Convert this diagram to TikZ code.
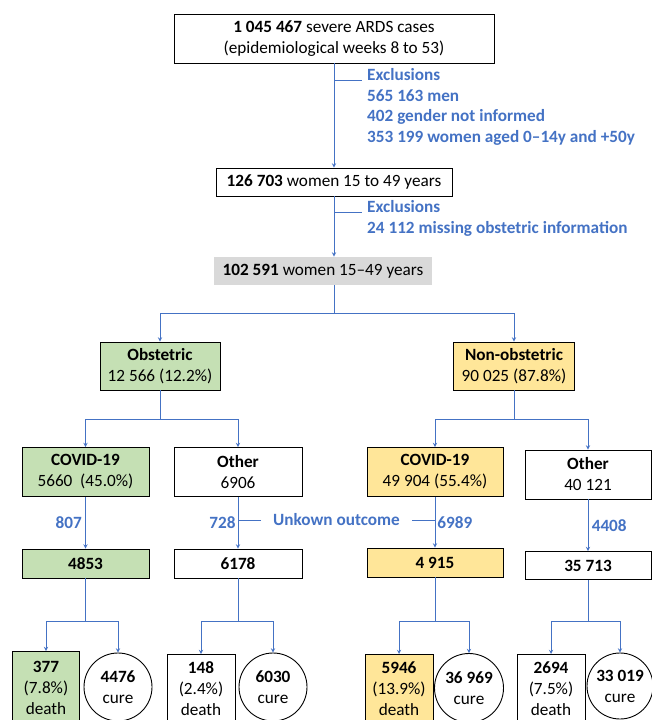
\documentclass[tikz,border=0pt]{standalone}
\usepackage{fontspec}
\setmainfont{Carlito}
\usetikzlibrary{positioning}
\definecolor{exblue}{HTML}{4472C4}
\definecolor{obgreen}{HTML}{C5E0B4}
\definecolor{nobyellow}{HTML}{FFE699}
\definecolor{boxgrey}{HTML}{D9D9D9}
\tikzset{
  box/.style={draw, line width=0.9pt, align=center, inner sep=0pt},
  flow/.style={draw=exblue, line width=0.9pt},
  arr/.style={flow, -stealth},
  bluetext/.style={text=exblue, font=\fontsize{17.2}{20.8}\selectfont\bfseries},
}

\begin{document}
\begin{tikzpicture}[x=1pt,y=-1pt,every node/.style={font=\fontsize{17.2}{21}\selectfont}]
            \useasboundingbox (0,0) rectangle (651,720);
            \node[box, minimum width=320, minimum height=49] (cases) at (334,38.5) {\textbf{1 045 467} severe ARDS cases\\(epidemiological weeks 8 to 53)};
            \node[box, minimum width=236, minimum height=28] (women) at (334,182) {\textbf{126 703} women 15 to 49 years};
            \node[box, draw=none, fill=boxgrey, minimum width=218, minimum height=28] (women2) at (323,271) {\textbf{102 591} women 15–49 years};
            \coordinate (ex1) at (334,80);
            \coordinate (ex2) at (334,212);
            \node[bluetext, anchor=north west, align=left, inner sep=5pt] (excl1) at (362,63) {Exclusions\\565 163 men\\402 gender not informed\\353 199 women aged 0–14y and +50y};
            \node[bluetext, anchor=north west, align=left, inner sep=5pt] (excl2) at (362,195) {Exclusions\\24 112 missing obstetric information};
            \draw[arr] (cases.south) -- (women.north);
            \draw[flow] (ex1) -- (ex1 -| excl1.west);
            \draw[arr] (women.south) -- (women.south |- women2.north);
            \draw[flow] (ex2) -- (ex2 -| excl2.west);
            \coordinate (split) at (334,313);
            \draw[flow] (women.south |- women2.south) -- (split);
            \node[box, fill=obgreen, minimum width=120, minimum height=48] (obst) at (160,366) {\textbf{Obstetric}\\12 566 (12.2\%)};
            \node[box, fill=nobyellow, minimum width=121, minimum height=48] (nonobst) at (514,366) {\textbf{Non-obstetric}\\90 025 (87.8\%)};
            \draw[arr] (split) -| (obst.north);
            \draw[arr] (split) -| (nonobst.north);
            \node[box, fill=obgreen, minimum width=127, minimum height=49] (covobst) at (85.5,472) {\textbf{COVID-19}\\5660\ \ (45.0\%)};
            \node[box, minimum width=128, minimum height=49] (othobst) at (238,472) {\textbf{Other}\\6906};
            \node[box, fill=nobyellow, minimum width=136, minimum height=49] (covnon) at (435,472) {\textbf{COVID-19}\\49 904 (55.4\%)};
            \node[box, minimum width=126, minimum height=49] (othnon) at (588,474.5) {\textbf{Other}\\40 121};
            \coordinate (obsplit) at (160,419);
            \coordinate (nonsplit) at (514,419);
            \draw[flow] (obst.south) -- (obsplit);
            \draw[flow] (nonobst.south) -- (nonsplit);
            \draw[arr] (obsplit) -| (covobst.north);
            \draw[arr] (obsplit) -| (othobst.north);
            \draw[arr] (nonsplit) -| (covnon.north);
            \draw[arr] (nonsplit) -| (othnon.north);
            \node[box, fill=obgreen, minimum width=127, minimum height=29] (n4853) at (85.5,563.5) {\textbf{4853}};
            \node[box, minimum width=128, minimum height=29] (n6178) at (238,563.5) {\textbf{6178}};
            \node[box, fill=nobyellow, minimum width=136, minimum height=29] (n4915) at (435,562.5) {\textbf{4 915}};
            \node[box, minimum width=126, minimum height=28] (n35713) at (588,565.5) {\textbf{35 713}};
            \draw[arr] (covobst.south) -- node[left, bluetext] {807} (n4853.north);
            \draw[arr] (othobst.south) -- node[left, bluetext, inner sep=2pt] (l728) {728} (n6178.north);
            \draw[arr] (covnon.south) -- node[right, bluetext, inner sep=2pt] (l6989) {6989} (n4915.north);
            \draw[arr] (othnon.south) -- node[right, bluetext] {4408} (n35713.north);
            \node[bluetext, inner xsep=12pt] (unknown) at (336.5,520) {Unkown outcome};
            \draw[flow] (unknown.west) -- (unknown.west -| othobst.south);
            \draw[flow] (unknown.east) -- (unknown.east -| covnon.south);
            \node[box, fill=obgreen, minimum width=67.5, minimum height=72, anchor=north] (d377) at (46,651) {\textbf{377}\\(7.8\%)\\death};
            \node[box, circle, minimum size=68] (c4476) at (118,687) {\textbf{4476}\\cure};
            \node[box, minimum width=68, minimum height=69, anchor=north] (d148) at (201,654) {\textbf{148}\\(2.4\%)\\death};
            \node[box, circle, minimum size=68] (c6030) at (273,687) {\textbf{6030}\\cure};
            \node[box, fill=nobyellow, minimum width=68, minimum height=69, anchor=north] (d5946) at (399,654) {\textbf{5946}\\(13.9\%)\\death};
            \node[box, circle, minimum size=69] (c36969) at (469,688) {\textbf{36 969}\\cure};
            \node[box, minimum width=68, minimum height=69, anchor=north] (d2694) at (551,654) {\textbf{2694}\\(7.5\%)\\death};
            \node[box, circle, minimum size=66] (c33019) at (620,686) {\textbf{33 019}\\cure};
            \coordinate (s4853) at (85.5,621);
            \coordinate (s6178) at (238,621);
            \coordinate (s4915) at (435,621);
            \coordinate (s35713) at (588,621);
            \draw[flow] (n4853.south) -- (s4853);
            \draw[flow] (n6178.south) -- (s6178);
            \draw[flow] (n4915.south) -- (s4915);
            \draw[flow] (n35713.south) -- (s35713);
            \draw[arr] (s4853) -| (d377.north);
            \draw[arr] (s4853) -| (c4476.north);
            \draw[arr] (s6178) -| (d148.north);
            \draw[arr] (s6178) -| (c6030.north);
            \draw[arr] (s4915) -| (d5946.north);
            \draw[arr] (s4915) -| (c36969.north);
            \draw[arr] (s35713) -| (d2694.north);
            \draw[arr] (s35713) -| (c33019.north);
        \end{tikzpicture}
\end{document}
